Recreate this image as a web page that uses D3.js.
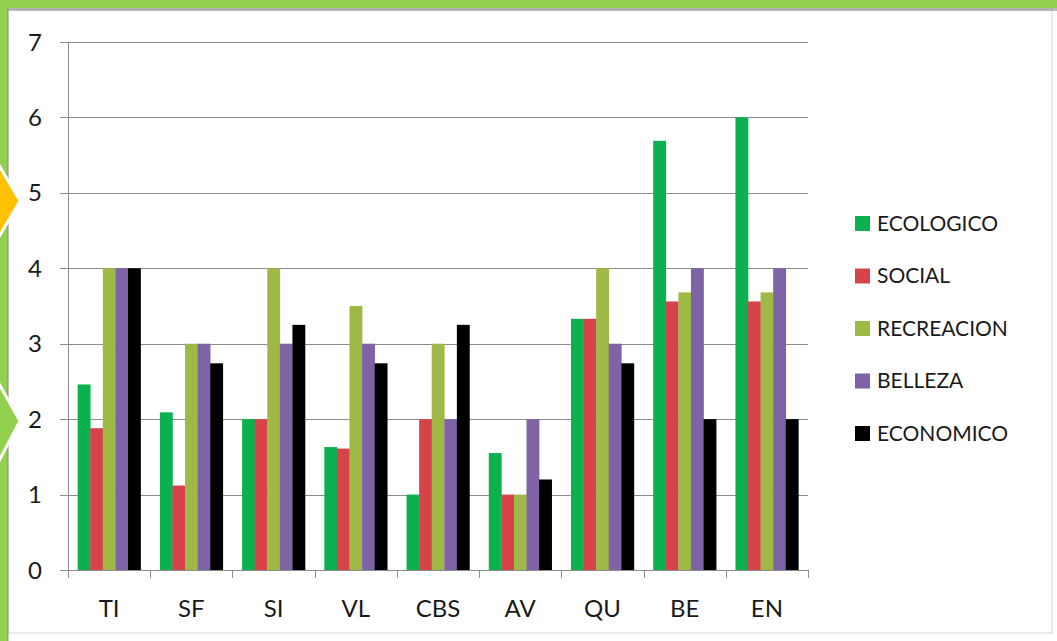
<!DOCTYPE html>
<html>
<head>
<meta charset="utf-8">
<script src="https://cdn.jsdelivr.net/npm/d3@7"></script>
<style>
  html, body { margin: 0; padding: 0; background: #fff; }
  svg { display: block; font-family: Lato, "Open Sans", sans-serif; }
</style>
</head>
<body>
<div id="chart"></div>
<script>
// categorias y series
const categories = ["TI", "SF", "SI", "VL", "CBS", "AV", "QU", "BE", "EN"]
const series = ["ECOLOGICO", "SOCIAL", "RECREACION", "BELLEZA", "ECONOMICO"]
const colors = ["#0BB14F", "#D6444A", "#9FB946", "#7E63A6", "#000000"]

// valores por serie, en el orden de categories
const ecologico  = [2.46, 2.09, 2.0, 1.63, 1.0, 1.55, 3.33, 5.69, 6.0]
const social     = [1.88, 1.12, 2.0, 1.61, 2.0, 1.0, 3.33, 3.56, 3.56]
const recreacion = [4.0, 3.0, 4.0, 3.5, 3.0, 1.0, 4.0, 3.68, 3.68]
const belleza    = [4.0, 3.0, 3.0, 3.0, 2.0, 2.0, 3.0, 4.0, 4.0]
const economico  = [4.0, 2.74, 3.25, 2.74, 3.25, 1.2, 2.74, 2.0, 2.0]
const yTicks = [0, 1, 2, 3, 4, 5, 6, 7]

const values = [ecologico, social, recreacion, belleza, economico]

let width = 1057, height = 641
let margin = { top: 42, left: 68, right: 808, bottom: 570 }   // bordes del area de trazado

let svg = d3.select("#chart")
    .append("svg")
    .attr("width", width)
    .attr("height", height)

// fondo y marco verde
svg.append("rect").attr("width", width).attr("height", height).attr("fill", "#fff")
svg.append("rect").attr("x", 8).attr("y", 9).attr("width", 1044).attr("height", 624)
    .attr("fill", "none").attr("stroke", "#e4e4e4").attr("stroke-width", 1.5)
svg.append("rect").attr("x", 0).attr("y", 8).attr("width", width).attr("height", 3).attr("fill", "#8a8a8a").attr("opacity", 0.6)
svg.append("rect").attr("x", 0).attr("y", 0).attr("width", width).attr("height", 8).attr("fill", "#92D050")
svg.append("rect").attr("x", 0).attr("y", 0).attr("width", 7).attr("height", height).attr("fill", "#92D050")
svg.append("rect").attr("x", 7).attr("y", 8).attr("width", 1.5).attr("height", height).attr("fill", "#9a9a9a")

// flechas del lado izquierdo
svg.append("path")
    .attr("d", "M-10,150 L20,201 L-10,252 Z")
    .attr("fill", "#FFC000").attr("stroke", "#fff").attr("stroke-width", 3)
svg.append("path")
    .attr("d", "M-10,368 L20,421 L-10,478 Z")
    .attr("fill", "#92D050").attr("stroke", "#fff").attr("stroke-width", 3)

let x = d3.scaleBand()
    .domain(categories)
    .range([margin.left, margin.right])
    .paddingInner(0.235)
    .paddingOuter(0.1175)

let xs = d3.scaleBand()
    .domain(series)
    .range([0, x.bandwidth()])

let y = d3.scaleLinear()
    .domain([0, 7])
    .range([margin.bottom, margin.top])

// lineas de cuadricula
svg.selectAll(".grid")
    .data(yTicks)
    .enter()
    .append("line")
    .attr("class", "grid")
    .attr("x1", margin.left - 8)
    .attr("x2", margin.right)
    .attr("y1", d => Math.round(y(d)) + 0.5)
    .attr("y2", d => Math.round(y(d)) + 0.5)
    .attr("stroke", "#8c8c8c")
    .attr("stroke-width", 1)

// etiquetas eje y
svg.selectAll(".ylab")
    .data(yTicks)
    .enter()
    .append("text")
    .attr("class", "ylab")
    .attr("x", 42)
    .attr("y", d => y(d))
    .attr("dy", "0.36em")
    .attr("text-anchor", "end")
    .style("font-size", "24px")
    .style("fill", "#1a1a1a")
    .text(d => d)

// barras
let groups = svg.selectAll(".cat")
    .data(categories)
    .enter()
    .append("g")
    .attr("class", "cat")
    .attr("transform", d => "translate(" + x(d) + ",0)")

groups.selectAll("rect")
    .data((d, i) => series.map((s, j) => ({ s: s, v: values[j][i], c: colors[j] })))
    .enter()
    .append("rect")
    .attr("x", d => xs(d.s))
    .attr("width", xs.bandwidth() + 0.3)
    .attr("y", d => y(d.v))
    .attr("height", d => y(0) - y(d.v))
    .attr("fill", d => d.c)

// eje x
svg.append("line")
    .attr("x1", margin.left).attr("x2", margin.right)
    .attr("y1", margin.bottom + 0.5).attr("y2", margin.bottom + 0.5)
    .attr("stroke", "#8c8c8c")
svg.append("line")
    .attr("x1", margin.left + 0.5).attr("x2", margin.left + 0.5)
    .attr("y1", margin.top).attr("y2", margin.bottom + 8)
    .attr("stroke", "#8c8c8c")

let step = x.step()
svg.selectAll(".xtick")
    .data(d3.range(categories.length + 1))
    .enter()
    .append("line")
    .attr("class", "xtick")
    .attr("x1", d => Math.round(margin.left + d * step) + 0.5)
    .attr("x2", d => Math.round(margin.left + d * step) + 0.5)
    .attr("y1", margin.bottom)
    .attr("y2", margin.bottom + 8)
    .attr("stroke", "#8c8c8c")

svg.selectAll(".xlab")
    .data(categories)
    .enter()
    .append("text")
    .attr("class", "xlab")
    .attr("x", d => x(d) + x.bandwidth() / 2)
    .attr("y", 617)
    .attr("text-anchor", "middle")
    .style("font-size", "24px")
    .style("fill", "#1a1a1a")
    .text(d => d)

// leyenda
let legend = svg.selectAll(".legend")
    .data(series)
    .enter()
    .append("g")
    .attr("class", "legend")
    .attr("transform", (d, i) => "translate(855," + (223 + i * 52.5) + ")")

legend.append("rect")
    .attr("x", 0).attr("y", -7)
    .attr("width", 15).attr("height", 15)
    .attr("fill", (d, i) => colors[i])

legend.append("text")
    .attr("x", 22)
    .attr("y", 0)
    .attr("dy", "0.36em")
    .style("font-size", "21px")
    .style("fill", "#1a1a1a")
    .text(d => d)
</script>
</body>
</html>
